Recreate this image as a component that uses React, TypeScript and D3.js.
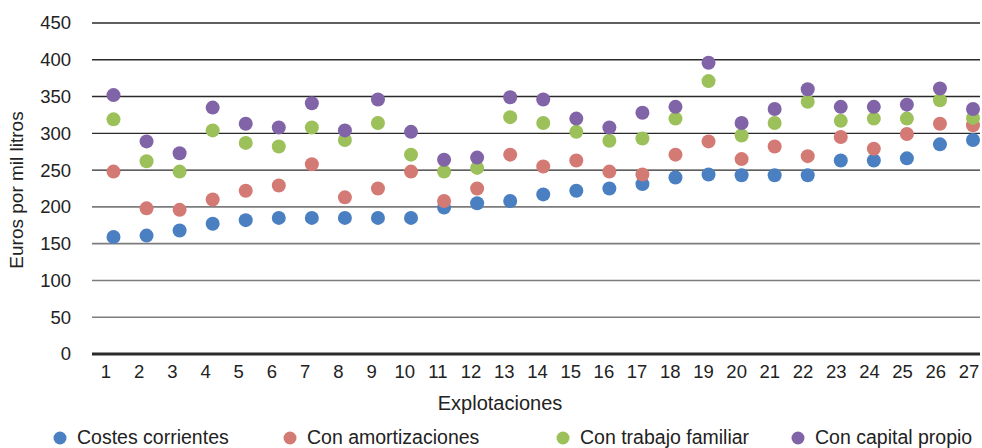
import React from "react";
import * as d3 from "d3";

const categories = Array.from({ length: 27 }, (_, i) => String(i + 1));
const costesCorrientes = [159, 161, 168, 177, 182, 185, 185, 185, 185, 185, 199, 205, 208, 217, 222, 225, 231, 240, 244, 243, 243, 243, 263, 263, 266, 285, 291];
const conAmortizaciones = [248, 198, 196, 210, 222, 229, 258, 213, 225, 248, 208, 225, 271, 255, 263, 248, 244, 271, 289, 265, 282, 269, 295, 279, 299, 313, 311];
const conTrabajoFamiliar = [319, 262, 248, 304, 287, 282, 308, 291, 314, 271, 248, 253, 322, 314, 302, 290, 293, 320, 371, 297, 314, 343, 317, 320, 320, 345, 321];
const conCapitalPropio = [352, 289, 273, 335, 313, 308, 341, 304, 346, 302, 264, 267, 349, 346, 320, 308, 328, 336, 396, 314, 333, 360, 336, 336, 339, 361, 333];
const yTicks = [0, 50, 100, 150, 200, 250, 300, 350, 400, 450];

const series = [
  { name: "Costes corrientes", values: costesCorrientes, color: "#4a7fc1" },
  { name: "Con amortizaciones", values: conAmortizaciones, color: "#d47a74" },
  { name: "Con trabajo familiar", values: conTrabajoFamiliar, color: "#9cc05a" },
  { name: "Con capital propio", values: conCapitalPropio, color: "#8064a7" },
];

const W = 982;
const H = 448;
const FONT = "'Liberation Sans', Arial, sans-serif";

export default function App() {
  const y = d3.scaleLinear().domain([0, 450]).range([354, 23]);
  const xDot = d3.scalePoint<string>().domain(categories).range([113.5, 973]);
  const xLab = d3.scalePoint<string>().domain(categories).range([106, 969]);
  const legendX = [60, 290, 563, 798];

  return (
    <svg width={W} height={H} style={{ position: "absolute", left: 0, top: 0, fontFamily: FONT }}>
      <rect width={W} height={H} fill="#fff" />
      {yTicks.map((t) => (
        <g key={t}>
          {t > 0 && (
            <line x1={92} x2={980} y1={y(t)} y2={y(t)} stroke={t >= 250 ? "#2a2a2a" : "#7d7d7d"} strokeWidth={t >= 250 ? 1.4 : 1.6} />
          )}
          <text x={71} y={y(t)} dy="0.35em" textAnchor="end" fontSize={18.5} fill="#222">
            {t}
          </text>
        </g>
      ))}
      <line x1={92} x2={980} y1={y(0)} y2={y(0)} stroke="#2a2a2a" strokeWidth={3} />
      {categories.map((c) => (
        <text key={c} x={xLab(c)} y={378} textAnchor="middle" fontSize={18.5} fill="#222">
          {c}
        </text>
      ))}
      <text x={500} y={410} textAnchor="middle" fontSize={20} fill="#222">
        Explotaciones
      </text>
      <text transform={`translate(23,190) rotate(-90)`} textAnchor="middle" fontSize={19} fill="#222">
        Euros por mil litros
      </text>
      {series.map((s) => (
        <g key={s.name}>
          {s.values.map((v, i) => (
            <circle key={i} cx={xDot(categories[i])} cy={y(v)} r={7} fill={s.color} />
          ))}
        </g>
      ))}
      {series.map((s, i) => (
        <g key={s.name}>
          <circle cx={legendX[i]} cy={438} r={6.5} fill={s.color} />
          <text x={legendX[i] + 17} y={437} dy="0.35em" fontSize={19.5} fill="#222">
            {s.name}
          </text>
        </g>
      ))}
    </svg>
  );
}
